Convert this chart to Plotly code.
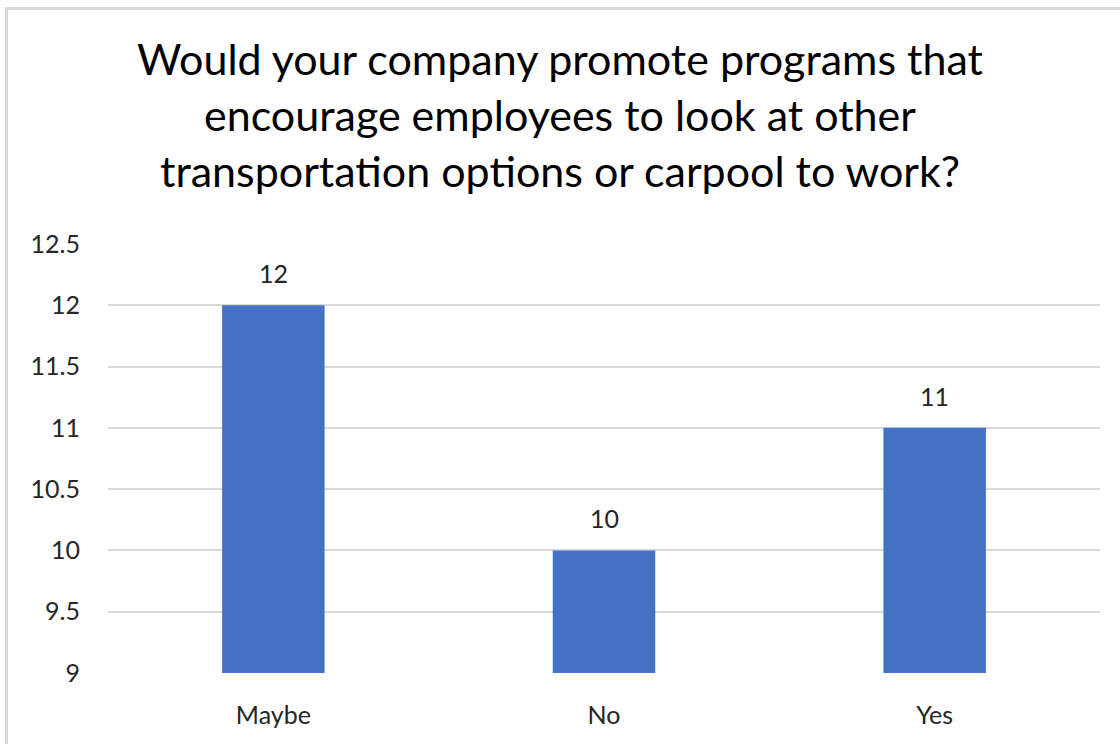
import plotly.graph_objects as go

categories = ["Maybe", "No", "Yes"]
values = [12, 10, 11]
y_ticks = [9, 9.5, 10, 10.5, 11, 11.5, 12, 12.5]
y_tick_labels = ["9", "9.5", "10", "10.5", "11", "11.5", "12", "12.5"]
title_text = ("Would your company promote programs that<br>"
              "encourage employees to look at other<br>"
              "transportation options or carpool to work?")

W, H = 1120, 744
L, R, T, B = 108, 20, 244, 71
FONT = "Lato, Open Sans, sans-serif"
TXT = "#262626"
BASE = 9

fig = go.Figure()
fig.add_trace(go.Bar(
    x=categories, y=[v - BASE for v in values], base=BASE,
    marker=dict(color="#4472C4", line=dict(width=0)),
    width=0.31, customdata=values, hovertemplate="%{x}: %{customdata}<extra></extra>",
))

for c, v in zip(categories, values):
    fig.add_annotation(x=c, y=v, text=str(v), showarrow=False,
                       yanchor="bottom", yshift=15,
                       font=dict(family=FONT, size=25, color=TXT))

pw = W - L - R
ph = H - T - B
fig.add_shape(type="rect", xref="paper", yref="paper",
              x0=(6.5 - L) / pw, x1=1.2, y0=-0.5, y1=(H - B - 8.5) / ph,
              line=dict(color="#d9d9d9", width=3), fillcolor="rgba(0,0,0,0)",
              layer="below")

fig.update_layout(
    width=W, height=H,
    margin=dict(l=L, r=R, t=T, b=B),
    paper_bgcolor="white", plot_bgcolor="white",
    showlegend=False,
    title=dict(text=title_text, x=0.5, xanchor="center", xref="container",
               y=1 - 75 / H, yanchor="top", yref="container",
               font=dict(family=FONT, size=43, color="#000000")),
    font=dict(family=FONT, color=TXT),
)
fig.update_xaxes(showgrid=False, showline=False, zeroline=False,
                 ticks="outside", ticklen=20, tickcolor="rgba(0,0,0,0)",
                 tickfont=dict(family=FONT, size=25, color=TXT))
fig.update_yaxes(range=[9, 12.5], tickmode="array", tickvals=y_ticks,
                 ticktext=y_tick_labels,
                 showgrid=True, gridcolor="#d9d9d9", gridwidth=2,
                 zeroline=False, showline=False,
                 ticks="outside", ticklen=22, tickcolor="rgba(0,0,0,0)",
                 tickfont=dict(family=FONT, size=25, color=TXT))

fig.write_html("out.html", config={"displayModeBar": False},
               post_script="document.body.style.margin='0';")
